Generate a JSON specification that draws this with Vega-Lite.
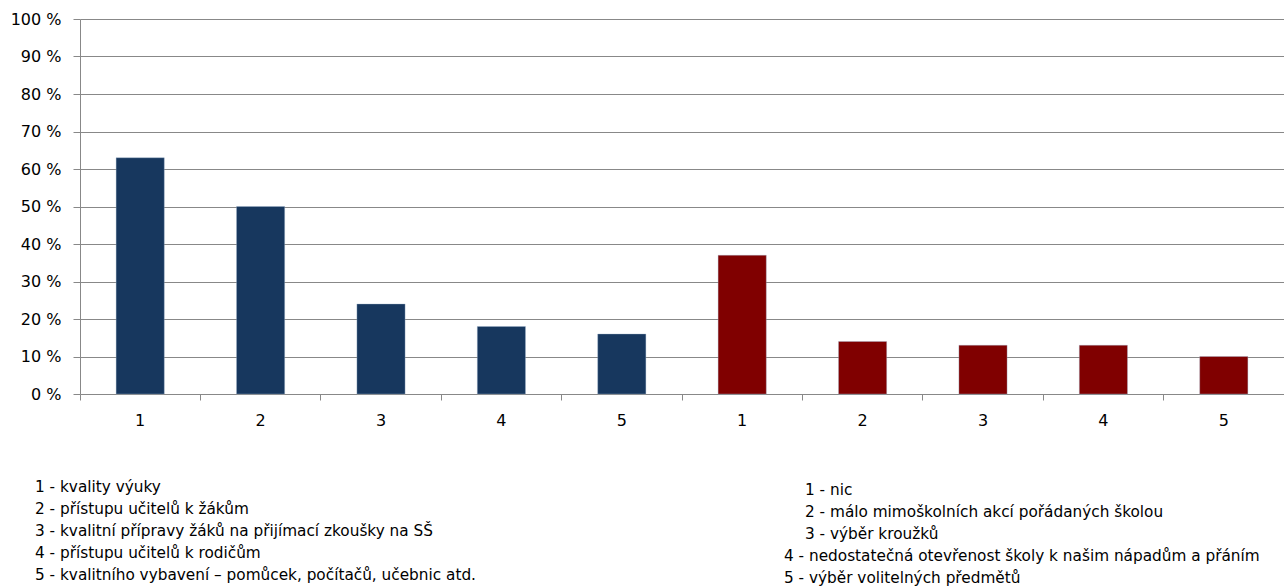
{
  "$schema": "https://vega.github.io/schema/vega-lite/v6.json",
  "padding": {"left": 10, "top": 11, "right": 0, "bottom": 0},
  "background": "white",
  "config": {"view": {"stroke": null}, "font": "DejaVu Sans"},
  "spacing": 93,
  "bounds": "flush",
  "vconcat": [
    {
      "width": 1204,
      "height": 375,
      "data": {"values": [
        {"id": "a1", "group": "a", "value": 63},
        {"id": "a2", "group": "a", "value": 50},
        {"id": "a3", "group": "a", "value": 24},
        {"id": "a4", "group": "a", "value": 18},
        {"id": "a5", "group": "a", "value": 16},
        {"id": "b1", "group": "b", "value": 37},
        {"id": "b2", "group": "b", "value": 14},
        {"id": "b3", "group": "b", "value": 13},
        {"id": "b4", "group": "b", "value": 13},
        {"id": "b5", "group": "b", "value": 10}
      ]},
      "mark": {"type": "bar", "width": {"band": 0.4}, "stroke": "#9FB2CC", "strokeWidth": 0.6, "strokeOpacity": 0.6},
      "encoding": {
        "x": {
          "field": "id", "type": "nominal", "sort": null,
          "scale": {"paddingInner": 0, "paddingOuter": 0},
          "axis": {
            "title": null, "labelExpr": "substring(datum.label, 1)",
            "bandPosition": 0, "labelAngle": 0,
            "labelFont": "DejaVu Sans", "labelFontSize": 16, "labelColor": "#000",
            "ticks": true, "tickSize": 6, "tickColor": "#888888", "tickWidth": 1,
            "domain": false, "grid": false, "labelPadding": 12
          }
        },
        "y": {
          "field": "value", "type": "quantitative",
          "scale": {"domain": [0, 100], "nice": false},
          "axis": {
            "values": [0, 10, 20, 30, 40, 50, 60, 70, 80, 90, 100],
            "labelExpr": "datum.value + ' %'", "title": null,
            "grid": true, "gridColor": "#888888", "gridWidth": 1, "gridOpacity": 1,
            "domainColor": "#888888", "domainWidth": 1,
            "tickColor": "#888888", "tickSize": 7, "tickWidth": 1,
            "labelPadding": 12, "labelFont": "DejaVu Sans", "labelFontSize": 16, "labelColor": "#000"
          }
        },
        "color": {
          "field": "group", "type": "nominal",
          "scale": {"domain": ["a", "b"], "range": ["#17375E", "#800000"]},
          "legend": null
        }
      }
    },
    {
      "width": 1204,
      "height": 88,
      "data": {"values": [
        {"col": "L", "line": 1, "text": "1 - kvality výuky"},
        {"col": "L", "line": 2, "text": "2 - přístupu učitelů k žákům"},
        {"col": "L", "line": 3, "text": "3 - kvalitní přípravy žáků na přijímací zkoušky na SŠ"},
        {"col": "L", "line": 4, "text": "4 - přístupu učitelů k rodičům"},
        {"col": "L", "line": 5, "text": "5 - kvalitního vybavení – pomůcek, počítačů, učebnic atd."},
        {"col": "R", "line": 1, "text": "1 - nic"},
        {"col": "R", "line": 2, "text": "2 - málo mimoškolních akcí pořádaných školou"},
        {"col": "R", "line": 3, "text": "3 - výběr kroužků"},
        {"col": "R", "line": 4, "text": "4 - nedostatečná otevřenost školy k našim nápadům a přáním"},
        {"col": "R", "line": 5, "text": "5 - výběr volitelných předmětů"}
      ]},
      "encoding": {
        "x": {"field": "col", "type": "nominal", "scale": {"type": "point", "padding": 0, "domain": ["L", "R"], "range": [-45, 725]}, "axis": null},
        "y": {"field": "line", "type": "ordinal", "scale": {"type": "point", "padding": 0}, "axis": null},
        "text": {"field": "text"}
      },
      "layer": [
        {
          "transform": [{"filter": "datum.col == 'L'"}],
          "mark": {"type": "text", "align": "left", "baseline": "middle", "font": "DejaVu Sans", "fontSize": 15.3, "color": "#000"}
        },
        {
          "transform": [{"filter": "datum.col == 'R' && datum.line <= 3"}],
          "mark": {"type": "text", "align": "left", "baseline": "middle", "font": "DejaVu Sans", "fontSize": 15.3, "color": "#000", "dy": 3}
        },
        {
          "transform": [{"filter": "datum.col == 'R' && datum.line > 3"}],
          "mark": {"type": "text", "align": "left", "baseline": "middle", "font": "DejaVu Sans", "fontSize": 15.3, "color": "#000", "dy": 3, "dx": -21, "limit": 500, "ellipsis": ""}
        }
      ]
    }
  ]
}
